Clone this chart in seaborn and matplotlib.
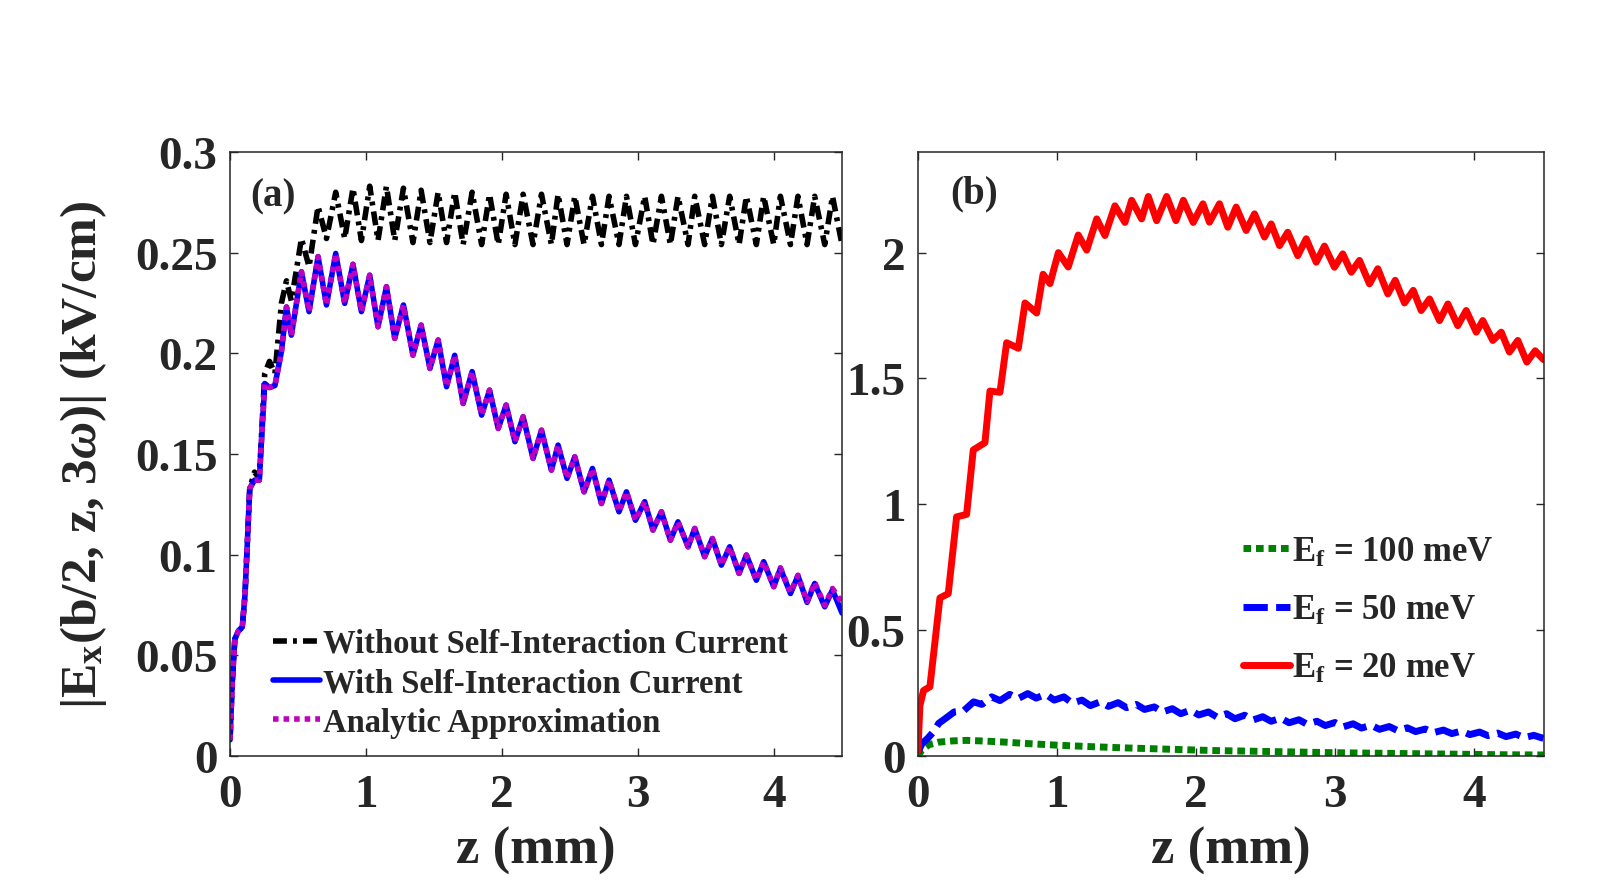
import matplotlib
matplotlib.use("Agg")
import matplotlib.pyplot as plt
import seaborn as sns

# ---------------- data ----------------
# panel (a): z in mm, |Ex| in kV/cm
z_a = [0, 0.015, 0.035, 0.06, 0.09, 0.11, 0.145, 0.18, 0.215, 0.255, 0.29, 0.33, 0.378,
       0.415, 0.451, 0.525, 0.581, 0.647, 0.709, 0.777, 0.843, 0.904, 0.966,
       1.027, 1.088, 1.15, 1.211, 1.275, 1.345, 1.405, 1.47, 1.53, 1.592,
       1.652, 1.714, 1.78, 1.85, 1.908, 1.972, 2.03, 2.095, 2.155, 2.228,
       2.29, 2.363, 2.412, 2.478, 2.535, 2.603, 2.665, 2.731, 2.787, 2.86,
       2.915, 2.981, 3.049, 3.11, 3.172, 3.238, 3.294, 3.368, 3.417, 3.49,
       3.547, 3.613, 3.674, 3.743, 3.797, 3.87, 3.924, 3.998, 4.047, 4.121,
       4.176, 4.243, 4.299, 4.373, 4.43, 4.5]

without_sic = [0.008, 0.035, 0.058, 0.062, 0.064, 0.08, 0.133, 0.141, 0.138, 0.19, 0.196, 0.19, 0.225,
               0.236, 0.226, 0.257, 0.243, 0.273, 0.257, 0.280, 0.257, 0.282, 0.256,
               0.283, 0.256, 0.283, 0.256, 0.282, 0.255, 0.281, 0.255, 0.280, 0.255,
               0.280, 0.254, 0.280, 0.254, 0.279, 0.254, 0.279, 0.254, 0.279, 0.254,
               0.279, 0.254, 0.279, 0.254, 0.278, 0.254, 0.278, 0.254, 0.278, 0.254,
               0.278, 0.254, 0.278, 0.254, 0.278, 0.254, 0.278, 0.254, 0.278, 0.254,
               0.278, 0.254, 0.278, 0.254, 0.278, 0.254, 0.278, 0.254, 0.278, 0.254,
               0.278, 0.254, 0.278, 0.254, 0.278, 0.254]

with_sic = [0.008, 0.035, 0.058, 0.062, 0.064, 0.08, 0.133, 0.137, 0.137, 0.185, 0.183, 0.184, 0.201,
            0.223, 0.209, 0.2405, 0.2207, 0.248, 0.224, 0.2496, 0.2248, 0.2442, 0.2207,
            0.2388, 0.2132, 0.2331, 0.2074, 0.224, 0.1991, 0.214, 0.1925, 0.2066, 0.1834,
            0.199, 0.1751, 0.1909, 0.1693, 0.1817, 0.1627, 0.1743, 0.1561, 0.1685, 0.1478,
            0.1618, 0.142, 0.1544, 0.1379, 0.1486, 0.1312, 0.1428, 0.1254, 0.137, 0.1213,
            0.1312, 0.1171, 0.1263, 0.1122, 0.1213, 0.1072, 0.1163, 0.1039, 0.113, 0.099,
            0.108, 0.0948, 0.1039, 0.0907, 0.0998, 0.0873, 0.0965, 0.0841, 0.0931, 0.0807,
            0.0895, 0.0763, 0.0857, 0.0741, 0.0825, 0.071]

analytic = [0.008, 0.035, 0.058, 0.062, 0.064, 0.08, 0.133, 0.137, 0.137, 0.185, 0.183, 0.184, 0.201,
            0.223, 0.209, 0.2405, 0.2207, 0.248, 0.224, 0.2496, 0.2248, 0.2442, 0.2207,
            0.2388, 0.2132, 0.2331, 0.2074, 0.224, 0.1991, 0.214, 0.1925, 0.2066, 0.1834,
            0.199, 0.1751, 0.1909, 0.1693, 0.1817, 0.1627, 0.1743, 0.1561, 0.1685, 0.1478,
            0.1618, 0.142, 0.1544, 0.1379, 0.1486, 0.1312, 0.1428, 0.1254, 0.137, 0.1213,
            0.1312, 0.1171, 0.1263, 0.1122, 0.1213, 0.1072, 0.1163, 0.1039, 0.113, 0.099,
            0.108, 0.0948, 0.1039, 0.0907, 0.0998, 0.0873, 0.0965, 0.0841, 0.0935, 0.0812,
            0.0898, 0.0768, 0.0862, 0.0748, 0.0832, 0.076]

# panel (b): red, Ef = 20 meV
z_red = [0, 0.014, 0.04, 0.086, 0.158, 0.218, 0.278, 0.35, 0.398, 0.482, 0.518, 0.59,
         0.638, 0.722, 0.77, 0.854, 0.90, 0.95, 1.01, 1.081, 1.153, 1.214, 1.286, 1.345,
         1.417, 1.489, 1.537, 1.609, 1.657, 1.717, 1.789, 1.856, 1.909, 1.98, 2.05, 2.097,
         2.169, 2.229, 2.289, 2.361, 2.421, 2.493, 2.541, 2.601, 2.66, 2.732, 2.793, 2.865,
         2.924, 2.996, 3.056, 3.117, 3.176, 3.248, 3.308, 3.38, 3.433, 3.5, 3.563, 3.62,
         3.68, 3.752, 3.812, 3.883, 3.944, 4.016, 4.063, 4.135, 4.196, 4.255, 4.315, 4.38,
         4.44, 4.5]
ef20 = [0.02, 0.2, 0.26, 0.275, 0.628, 0.645, 0.95, 0.96, 1.216, 1.245, 1.45, 1.445,
        1.642, 1.62, 1.80, 1.76, 1.914, 1.877, 2.0, 1.943, 2.07, 2.01, 2.134, 2.068,
        2.186, 2.12, 2.208, 2.134, 2.223, 2.127, 2.223, 2.127, 2.208, 2.12, 2.194, 2.121,
        2.194, 2.101, 2.181, 2.088, 2.154, 2.062, 2.114, 2.028, 2.081, 1.988, 2.055, 1.962,
        2.026, 1.942, 1.995, 1.922, 1.969, 1.876, 1.936, 1.836, 1.89, 1.80, 1.85, 1.77,
        1.816, 1.73, 1.796, 1.71, 1.77, 1.684, 1.73, 1.651, 1.684, 1.605, 1.651, 1.565,
        1.61, 1.575]

# panel (b): blue, Ef = 50 meV
z_blue = [0, 0.03, 0.07, 0.11, 0.15, 0.2, 0.26, 0.33, 0.40, 0.46, 0.53, 0.59, 0.66, 0.72,
          0.79, 0.85, 0.92, 0.98, 1.05, 1.11, 1.18, 1.24, 1.31, 1.37, 1.44, 1.50, 1.57, 1.63,
          1.70, 1.76, 1.83, 1.89, 1.96, 2.02, 2.09, 2.15, 2.22, 2.28, 2.35, 2.41, 2.48, 2.54,
          2.61, 2.67, 2.74, 2.80, 2.87, 2.93, 3.00, 3.06, 3.13, 3.19, 3.26, 3.32, 3.39, 3.45,
          3.52, 3.58, 3.65, 3.71, 3.78, 3.84, 3.91, 3.97, 4.04, 4.10, 4.17, 4.23, 4.30, 4.36,
          4.43, 4.5]
ef50 = [0.015, 0.05, 0.07, 0.095, 0.13, 0.15, 0.175, 0.18, 0.215, 0.205, 0.235, 0.22, 0.245, 0.228,
        0.248, 0.23, 0.245, 0.222, 0.235, 0.21, 0.222, 0.2, 0.215, 0.197, 0.212, 0.192, 0.205, 0.185,
        0.195, 0.175, 0.188, 0.168, 0.182, 0.163, 0.175, 0.155, 0.168, 0.148, 0.162, 0.143, 0.156, 0.138,
        0.15, 0.132, 0.144, 0.126, 0.138, 0.121, 0.133, 0.116, 0.128, 0.111, 0.122, 0.106, 0.117, 0.101,
        0.112, 0.097, 0.107, 0.093, 0.103, 0.089, 0.099, 0.085, 0.095, 0.081, 0.091, 0.077, 0.087, 0.073,
        0.082, 0.07]

# panel (b): green, Ef = 100 meV
z_green = [0, 0.03, 0.08, 0.15, 0.25, 0.35, 0.45, 0.6, 0.8, 1.0, 1.25, 1.5, 1.8, 2.1, 2.4,
           2.7, 3.0, 3.3, 3.6, 3.9, 4.2, 4.5]
ef100 = [0.0, 0.025, 0.045, 0.055, 0.06, 0.062, 0.06, 0.056, 0.049, 0.043, 0.037, 0.032,
         0.027, 0.022, 0.019, 0.016, 0.013, 0.011, 0.009, 0.007, 0.005, 0.004]

xticks = [0, 1, 2, 3, 4]
yticks_a = [0, 0.05, 0.1, 0.15, 0.2, 0.25, 0.3]
ylabels_a = ["0", "0.05", "0.1", "0.15", "0.2", "0.25", "0.3"]
yticks_b = [0, 0.5, 1, 1.5, 2]
ylabels_b = ["0", "0.5", "1", "1.5", "2"]

# ---------------- style ----------------
sns.set_style("ticks")
plt.rcParams["font.family"] = ["Liberation Serif", "DejaVu Serif"]
plt.rcParams["font.weight"] = "bold"
plt.rcParams["mathtext.fontset"] = "custom"
plt.rcParams["mathtext.rm"] = "Liberation Serif:bold"
plt.rcParams["mathtext.bf"] = "Liberation Serif:bold"
plt.rcParams["mathtext.it"] = "Liberation Serif:italic"
plt.rcParams["axes.linewidth"] = 1.1

fig = plt.figure(figsize=(16.02, 8.95), dpi=100)
ax_a = fig.add_axes([0.1436, 0.1542, 0.382, 0.6749])
ax_b = fig.add_axes([0.573, 0.1542, 0.3905, 0.6749])

# ---------------- panel (a) ----------------
sns.lineplot(x=z_a, y=without_sic, ax=ax_a, color="black", lw=4,
             linestyle=(0, (2.5, 1.1, 0.7, 1.1)), label="Without Self-Interaction Current")
sns.lineplot(x=z_a, y=with_sic, ax=ax_a, color="#0000ff", lw=4,
             label="With Self-Interaction Current")
sns.lineplot(x=z_a, y=analytic, ax=ax_a, color="#c000c0", lw=4,
             linestyle=(0, (1, 0.9)), label="Analytic Approximation")

# ---------------- panel (b) ----------------
sns.lineplot(x=z_green, y=ef100, ax=ax_b, color="#008000", lw=5,
             linestyle=(0, (1.1, 0.7)), label=r"E$_\mathbf{f}$ = 100 meV")
sns.lineplot(x=z_blue, y=ef50, ax=ax_b, color="#0000ff", lw=5,
             linestyle=(0, (3.5, 1.2)), label=r"E$_\mathbf{f}$ = 50 meV")
sns.lineplot(x=z_red, y=ef20, ax=ax_b, color="#ff0000", lw=5,
             label=r"E$_\mathbf{f}$ = 20 meV")

for ax in (ax_a, ax_b):
    ax.set_xlim(0, 4.5)
    ax.set_xticks(xticks)
    ax.set_xticklabels([str(t) for t in xticks])
    ax.tick_params(direction="in", length=6, width=1.0, top=True, right=True,
                   labelsize=34, pad=9, colors="#262626")
    ax.tick_params(axis="x", pad=13)
    for sp in ax.spines.values():
        sp.set_color("#262626")
        sp.set_visible(True)
    ax.set_xlabel("z (mm)", fontsize=38, fontweight="bold", color="#262626", labelpad=7)
    ax.set_ylabel("")

ax_a.set_ylim(0, 0.3)
ax_a.set_yticks(yticks_a)
ax_a.set_yticklabels(ylabels_a)
ax_b.set_ylim(0, 2.4)
ax_b.set_yticks(yticks_b)
ax_b.set_yticklabels(ylabels_b)

ax_a.set_ylabel(r"|E$_\mathbf{x}$(b/2, z, 3$\omega$)| (kV/cm)", fontsize=37,
                fontweight="bold", color="#262626", labelpad=19)

ax_a.text(0.033, 0.927, "(a)", transform=ax_a.transAxes, fontsize=28,
          fontweight="bold", va="center", ha="left")
ax_b.text(0.051, 0.932, "(b)", transform=ax_b.transAxes, fontsize=28,
          fontweight="bold", va="center", ha="left")

ax_a.legend(loc="upper left", bbox_to_anchor=(0.07, 0.212), frameon=False,
            fontsize=23.5, handlelength=1.45, handletextpad=0.1,
            labelspacing=0.26, borderpad=0, borderaxespad=0)
ax_b.legend(loc="upper left", bbox_to_anchor=(0.52, 0.365), frameon=False,
            fontsize=25, handlelength=1.35, handletextpad=0.05,
            labelspacing=0.72, borderpad=0, borderaxespad=0)

fig.savefig("out.png", dpi=100)
